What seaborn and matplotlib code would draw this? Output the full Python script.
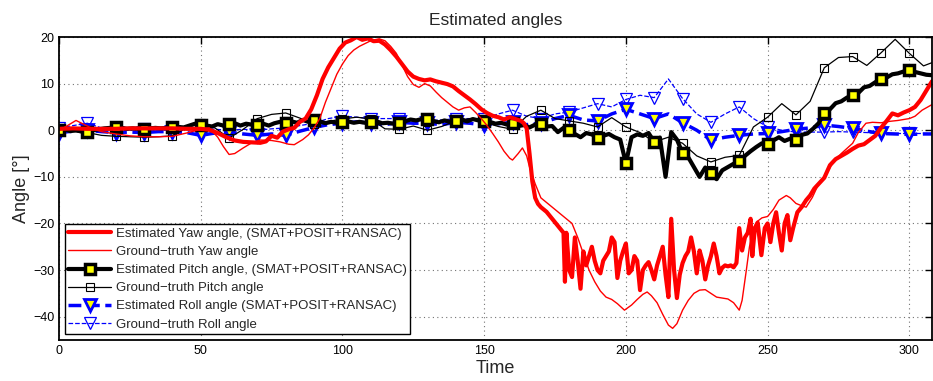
import numpy as np
import matplotlib
matplotlib.use('Agg')
from matplotlib import pyplot as plt
from matplotlib.lines import Line2D
import seaborn as sns

# Estimated yaw (thick red)
t_yaw_est = [0, 5, 10, 15, 20, 25, 30, 35, 40, 45, 50, 53, 56, 59, 62, 65, 68, 71, 73, 75, 77, 79, 81, 83, 85, 87, 89,
             91, 93, 95, 97, 99, 101, 103, 105, 107, 109, 111, 113, 115, 117, 119, 121, 123, 125, 127, 129, 131, 133,
             135, 137, 139, 141, 143, 145, 147, 149, 151, 153, 155, 157, 159, 161, 163, 164, 165, 166, 167, 168, 169,
             170, 172, 174, 176, 178, 178.5, 179, 180, 181, 182, 183, 184, 185, 186, 187, 188, 189, 190, 191, 192,
             193, 194, 195, 196, 197, 198, 199, 200, 201, 202, 203, 204, 205, 206, 207, 208, 209, 210, 211, 212, 213,
             214, 215, 216, 217, 218, 219, 220, 221, 222, 223, 224, 225, 226, 227, 228, 229, 230, 231, 232, 233, 234,
             235, 236, 237, 238, 239, 240, 241, 242, 243, 244, 244.6, 245.5, 246.5, 247.8, 249, 250, 251, 252, 253,
             254, 255, 256, 257, 258, 259, 260.5, 262, 263.6, 265, 266.5, 268, 270, 272, 274, 276, 278, 280, 282,
             284, 286, 288, 290, 292, 294, 296, 298, 300, 302, 304, 306, 308]
yaw_est = [0.3, 0.4, 0.3, 0.3, 0.3, 0.4, 0.4, 0.4, 0.4, 0.3, 0.3, 0.1, -0.6, -1.5, -2.2, -2.5, -2.6, -2.7, -2.4, -1.2,
           -1.6, -0.3, 0.2, 0.5, 1.8, 2.5, 4.5, 7.5, 11, 13.5, 15.5, 17.5, 18.8, 19.3, 20, 19.4, 19.7, 19.1, 19.2,
           18.4, 17.2, 15.8, 14.2, 12.6, 11.5, 11.0, 10.7, 10.9, 10.5, 10.2, 9.9, 9.4, 8.4, 7.5, 6.6, 5.6, 4.5, 3.7,
           3.1, 2.8, 2.3, 2.8, 2.4, 2.0, 1.5, 0.4, -5, -11, -14.5, -15.8, -16.5, -17.5, -19, -20.5, -22, -32.5, -22,
           -30, -31.5, -23, -28, -34, -26, -29, -27, -25, -28, -30, -30.7, -28, -27, -26, -23, -24, -31.7, -28, -26,
           -24.3, -30.7, -30, -27, -28, -34.3, -30, -29, -28.3, -30, -32, -29, -27, -25, -31, -35.8, -19, -30, -36,
           -31, -28.5, -27, -26, -23, -26, -30.7, -25.8, -28, -32, -29, -27, -24.3, -27, -30.7, -29.5, -29, -29.2,
           -29, -29.4, -28.5, -21, -25.8, -23, -22, -19, -27, -21, -19.8, -26.8, -21, -20, -24, -20, -17.6, -22,
           -25.8, -20, -18.2, -23.6, -21, -17.6, -16.5, -15, -14, -12.5, -11.5, -10.2, -7.5, -6.2, -5.5, -4.8, -4,
           -3.3, -3, -2.1, -1.2, 0.5, 2, 3.6, 3.2, 3.8, 4.3, 5, 6.5, 8.5, 10.5]

# Ground-truth yaw (thin red)
t_yaw_gt = [0, 3, 6, 9, 12, 15, 20, 25, 30, 35, 40, 45, 50, 53, 56, 58, 60, 62, 65, 68, 71, 75, 78, 81, 83, 86, 88, 90,
            92, 94, 96, 98, 100, 102, 104, 106, 108, 110, 113, 115, 117, 119, 121, 123, 125, 127, 129, 131, 133, 135,
            137, 139, 141, 143, 145, 147, 149, 151, 153, 155, 157, 159, 160, 162, 163.5, 165, 166, 168, 170, 172, 174,
            176, 178, 181, 183, 185, 187, 189, 191, 193, 195, 197, 199.5, 202, 204, 206, 207.5, 209, 211, 213, 215,
            216.5, 218, 220, 222, 224, 226, 228, 230, 232, 234, 236, 238, 240, 241, 242.5, 243.6, 245, 246.5, 248,
            250, 252, 254, 256.6, 258, 260, 262, 263.6, 265.8, 268, 270, 273, 276, 280, 282, 284.7, 287, 290, 293,
            296, 300, 302, 304.5, 308]
yaw_gt = [0, 1, 2.1, 1.2, 0.3, -0.3, -0.8, -1.2, -1.4, -1.4, -1.3, -0.6, 0.2, 0.5, -1.5, -3.5, -5.2, -5.0, -3.8, -2.7,
          -2.1, -2.2, -2.5, -3.0, -3.1, -2.0, -1.0, 0.5, 2.5, 6, 9, 12, 14.2, 16, 17.2, 18.0, 18.6, 19.2, 19.6, 19.2,
          18, 16.5, 14, 11.5, 9.8, 9.2, 10, 9.5, 8.2, 7, 6, 5, 4.3, 4.8, 5, 3.8, 2.5, 1, -0.7, -2.5, -4.5, -6, -6.4,
          -5, -3.8, -5.5, -7.9, -11.5, -14.5, -15.5, -16.5, -17.5, -18.5, -20, -23, -26.5, -30, -32.5, -34.5, -35.8,
          -36.3, -37.2, -38.6, -37.5, -36.3, -35.2, -34.7, -35.5, -37, -39.5, -41.8, -42.5, -41.5, -38.6, -36.5, -35,
          -34.3, -34.2, -35, -35.8, -36, -36.2, -37, -38.6, -36.5, -30, -25, -21, -19.5, -18.8, -18.5, -17, -15, -14,
          -14.5, -15.7, -16.2, -16.5, -14.4, -11.5, -10, -7, -5, -2.8, -0.5, 1.5, 1.7, 1.6, 1.9, 2.1, 2.5, 3, 4.3,
          5.5]

# Estimated pitch (thick black, yellow squares), sampled every 2
t_pitch_est = np.arange(0, 310, 2)
pitch_est = [0, 0.2, -0.2, 0, -0.3, -0.4, 0, 0.2, 0.4, 0.5, 0.6, 0.5, 0.3, 0.4, 0.3, 0.3, 0.4, 0.5, 0.4, 0.5, 0.6,
             0.7, 0.6, 1.0, 1.4, 1.1, 1.0, 0.8, 1.3, 1.0, 1.3, 1.5, 1.0, 1.4, 1.2, 1.1, 1.4, 1.0, 1.5, 1.8, 1.5, 1.9,
             1.6, 2.2, 1.8, 2.1, 1.9, 1.5, 1.8, 1.6, 1.7, 1.9, 1.6, 1.8, 1.6, 1.7, 1.9, 1.5, 1.6, 1.4, 1.5, 1.9, 2.3,
             2.1, 2.4, 2.5, 2.0, 1.7, 2.1, 1.8, 2.0, 2.3, 1.9, 2.4, 2.1, 2.0, 1.8, 1.4, 1.6, 1.2, 1.5, 0.9, 1.1, 0.6,
             1.2, 1.3, 0.8, 0.9, -0.4, 0.5, 0, -0.8, -1.5, -0.6, -0.9, -1.6, -1.2, -0.8, -1.5, -2.0, -7.1, -1.5, -0.9,
             -1.2, -0.6, -2.5, -1.6, -10, -0.4, -2.0, -4.9, -5.8, -7.9, -10, -8, -9.2, -10.5, -8.6, -7.9, -7.2, -6.6,
             -5.5, -4.5, -3.6, -2.8, -2.9, -2.2, -1.5, -2.3, -1.8, -2.0, -1.0, -0.7, 0.3, 1.5, 3.7, 4.5, 5.8, 6.2, 7.0,
             7.5, 8.0, 9.2, 9.5, 10.3, 11, 11.3, 12.0, 12.2, 12.6, 13, 12.5, 12.2, 11.9, 11.8]

# Ground-truth pitch (thin black, open squares), sampled every 5
t_pitch_gt = [0, 5, 10, 15, 20, 25, 30, 35, 40, 45, 50, 55, 60, 65, 70, 75, 80, 85, 90, 95, 100, 105, 110, 115, 120,
              125, 130, 135, 140, 145, 150, 155, 160, 165, 170, 175, 180, 185, 190, 195, 200, 205, 210, 215, 220, 225,
              230, 235, 240, 245, 250, 255, 260, 265, 270, 275, 280, 285, 290, 295, 300, 305, 308]
pitch_gt = [0, -0.3, -0.5, -1.1, -1.3, -1.4, -1.5, -1.4, -1.2, 0.5, 1.5, 0.5, -1.7, 0.2, 2.5, 3.4, 3.7, 2.6, 1.3, 1.9,
            2.4, 2.8, 2.4, 0.3, 0.2, 0.9, 0, 0.8, 2.0, 2.5, 1.7, 0.8, 0.2, 3.0, 4.3, 2.5, 2.0, 1.5, 0.7, 2.7, 0.7,
            -0.5, -2.5, -1.5, -2.8, -5.5, -6.8, -5.8, -5.4, 0.7, 2.8, 5.7, 3.3, 6.2, 13.4, 15.6, 15.8, 13.9, 16.6,
            19.5, 16.5, 13.8, 14.5]

# Roll, sampled every 5
t_roll = t_pitch_gt
roll_est = [-0.5, -0.2, 0, -0.3, -0.5, -0.4, -0.5, -0.3, -0.3, -0.5, -1.1, -0.6, -0.4, -0.8, -1.1, -0.8, -1.1, -0.2,
            0.6, 1.2, 1.5, 1.8, 1.5, 1.2, 1.7, 1.5, 1.5, 1.2, 1.7, 1.5, 1.1, 1.4, 1.7, 1.2, 1.5, 2.5, 3.2, 2.2, 2.0,
            3.5, 4.5, 3.5, 2.5, 3.5, 1.6, 0, -2.1, -1.5, -1.1, -0.8, -0.7, -0.3, 0.2, 0.5, 1.1, 0.8, 0.4, -0.2, -0.7,
            -0.8, -0.9, -0.8, -0.8]
roll_gt = [0.5, 1.0, 1.5, 0.5, 0, 0, 0.2, 0, 0, 0.3, 0.5, 0.2, 0, 0.2, 0, 0.3, 0.5, 1.0, 1.5, 2.5, 3.0, 2.8, 2.5, 2.5,
           2.5, 2.2, 2.0, 2.2, 2.5, 2.5, 2.5, 3.5, 4.3, 3.0, 2.5, 3.5, 3.9, 4.8, 5.7, 5.0, 6.6, 7.5, 7.0, 11, 6.8, 3.5,
           1.7, 3.5, 5.0, 2.5, 0.7, 0, -0.4, -0.4, -0.4, -0.3, -0.4, -0.5, -0.7, -0.7, -0.7, -0.7, -0.7]

labels = ['Estimated Yaw angle, (SMAT+POSIT+RANSAC)',
          'Ground\u2212truth Yaw angle',
          'Estimated Pitch angle, (SMAT+POSIT+RANSAC)',
          'Ground\u2212truth Pitch angle',
          'Estimated Roll angle (SMAT+POSIT+RANSAC)',
          'Ground\u2212truth Roll angle']

styles = [
    dict(color='red', linewidth=3),
    dict(color='red', linewidth=1),
    dict(color='black', linewidth=3, marker='s', markersize=7, markerfacecolor='yellow',
         markeredgecolor='black', markeredgewidth=2.5),
    dict(color='black', linewidth=0.9, marker='s', markersize=6, markerfacecolor='none',
         markeredgecolor='black', markeredgewidth=0.8),
    dict(color='blue', linewidth=2.5, linestyle='--', marker='v', markersize=9, markerfacecolor='yellow',
         markeredgecolor='blue', markeredgewidth=2),
    dict(color='blue', linewidth=0.9, linestyle='--', marker='v', markersize=9, markerfacecolor='none',
         markeredgecolor='blue', markeredgewidth=0.9),
]


def every10(t):
    return [float(v) % 10 == 0 for v in t]


sns.set_style('white')
plt.rcParams['font.family'] = ['Liberation Sans', 'DejaVu Sans']

fig = plt.figure(figsize=(9.33, 3.81), dpi=100)
ax = fig.add_axes([59 / 933, 41 / 381, 873 / 933, 303 / 381])

# roll at the bottom, yaw on top
sns.lineplot(x=t_roll, y=roll_gt, ax=ax, sort=False, estimator=None, markevery=every10(t_roll),
             zorder=2, legend=False, **styles[5])
sns.lineplot(x=t_roll, y=roll_est, ax=ax, sort=False, estimator=None, markevery=every10(t_roll),
             zorder=2.1, legend=False, **styles[4])
sns.lineplot(x=t_pitch_gt, y=pitch_gt, ax=ax, sort=False, estimator=None, markevery=every10(t_pitch_gt),
             zorder=2.2, legend=False, **styles[3])
sns.lineplot(x=t_pitch_est, y=pitch_est, ax=ax, sort=False, estimator=None, markevery=every10(t_pitch_est),
             zorder=2.3, legend=False, **styles[2])
sns.lineplot(x=t_yaw_gt, y=yaw_gt, ax=ax, sort=False, estimator=None, zorder=2.4, legend=False, **styles[1])
sns.lineplot(x=t_yaw_est, y=yaw_est, ax=ax, sort=False, estimator=None, zorder=2.5, legend=False, **styles[0])

ax.set_xlim(0, 308)
ax.set_ylim(-45, 20)
ax.set_xticks(range(0, 301, 50))
ax.set_yticks(range(-40, 21, 10))
ax.grid(True, linestyle=(0, (1, 3)), color='0.45', linewidth=0.8)
ax.tick_params(direction='in', length=5, top=True, right=True, labelsize=9, width=1, colors='black')
for sp in ax.spines.values():
    sp.set_linewidth(1.3)
    sp.set_color('black')

ax.set_title('Estimated angles', fontsize=12.5, pad=9)
ax.set_xlabel('Time', fontsize=13, labelpad=2)
ax.set_ylabel('Angle [\u00b0]', fontsize=13, labelpad=2)

handles = [Line2D([0], [0], **s) for s in styles]
leg = ax.legend(handles, labels, loc='lower left', bbox_to_anchor=(0.007, 0.02), fontsize=9.5, handlelength=3.2,
                labelspacing=0.45, borderpad=0.25, handletextpad=0.4, fancybox=False, framealpha=1,
                edgecolor='black', borderaxespad=0, numpoints=1)
leg.get_frame().set_linewidth(1.0)
leg.set_zorder(5)

fig.savefig('out.png', dpi=100)
